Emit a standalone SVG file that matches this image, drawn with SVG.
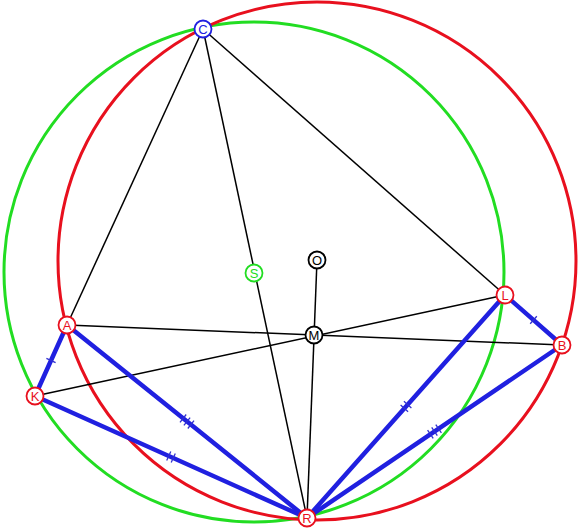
<svg xmlns="http://www.w3.org/2000/svg" width="580" height="529" viewBox="0 0 580 529">
<style>
.circ{fill:none;stroke-width:3}
.blk{stroke:#000;stroke-width:1.5;fill:none}
.blu{stroke:#2020e0;stroke-width:4.5;fill:none;stroke-linecap:round}
.tick{stroke:#3030d0;stroke-width:1.3}
.nd circle{fill:#fff;stroke-width:1.8}
.nd text{font-family:"Liberation Sans",Arial,sans-serif;font-size:13px;text-anchor:middle;dominant-baseline:central}
.red circle{stroke:#e8101e}.red text{fill:#e8101e}
</style>
<rect width="580" height="529" fill="#fff"/>
<g id="circles">
<circle class="circ" cx="254" cy="272" r="250" stroke="#22dd22"/>
<circle class="circ" cx="317" cy="261" r="259" stroke="#e8101e"/>
</g>
<g id="connectors">
<line class="blk" x1="203" y1="29" x2="67" y2="325"/>
<line class="blk" x1="203" y1="29" x2="505" y2="295"/>
<line class="blk" x1="203" y1="29" x2="307" y2="518"/>
<line class="blk" x1="317" y1="260" x2="307" y2="518"/>
<line class="blk" x1="67" y1="325" x2="562" y2="345"/>
<line class="blk" x1="35" y1="396" x2="505" y2="295"/>
<line class="blu" x1="67" y1="325" x2="35" y2="396"/>
<line class="blu" x1="67" y1="325" x2="307" y2="518"/>
<line class="blu" x1="35" y1="396" x2="307" y2="518"/>
<line class="blu" x1="505" y1="295" x2="562" y2="345"/>
<line class="blu" x1="505" y1="295" x2="307" y2="518"/>
<line class="blu" x1="562" y1="345" x2="307" y2="518"/>
<g class="tick">
<line x1="46.4" y1="358.4" x2="55.6" y2="362.6"/>
<line x1="536.8" y1="316.2" x2="530.2" y2="323.8"/>
<line x1="186.2" y1="414.5" x2="180" y2="422.3"/>
<line x1="190.1" y1="417.6" x2="183.9" y2="425.4"/>
<line x1="194" y1="420.7" x2="187.8" y2="428.5"/>
<line x1="441.4" y1="432.8" x2="435.8" y2="424.6"/>
<line x1="437.3" y1="435.6" x2="431.7" y2="427.4"/>
<line x1="433.2" y1="438.4" x2="427.6" y2="430.2"/>
<line x1="166.7" y1="460.6" x2="170.8" y2="451.4"/>
<line x1="171.2" y1="462.6" x2="175.3" y2="453.4"/>
<line x1="411.4" y1="407.9" x2="403.9" y2="401.3"/>
<line x1="408.1" y1="411.7" x2="400.6" y2="405.1"/>
</g>
</g>
<g id="C" class="nd"><circle cx="203" cy="29" r="8.5" stroke="#2020e0"/><text x="203" y="29.5" fill="#2020e0">C</text></g>
<g id="S" class="nd"><circle cx="254" cy="273" r="8.5" stroke="#22dd22"/><text x="254" y="273.5" fill="#22dd22">S</text></g>
<g id="O" class="nd"><circle cx="317" cy="260" r="8.5" stroke="#000"/><text x="317" y="260.5" fill="#000">O</text></g>
<g id="M" class="nd"><circle cx="314" cy="335" r="8.5" stroke="#000"/><text x="314" y="335.5" fill="#000">M</text></g>
<g id="L" class="nd red"><circle cx="505" cy="295" r="8.5"/><text x="505" y="295.5">L</text></g>
<g id="B" class="nd red"><circle cx="562" cy="345" r="8.5"/><text x="562" y="345.5">B</text></g>
<g id="A" class="nd red"><circle cx="67" cy="325" r="8.5"/><text x="67" y="325.5">A</text></g>
<g id="K" class="nd red"><circle cx="35" cy="396" r="8.5"/><text x="35" y="396.5">K</text></g>
<g id="R" class="nd red"><circle cx="307" cy="518" r="8.5"/><text x="307" y="518.5">R</text></g>
</svg>
